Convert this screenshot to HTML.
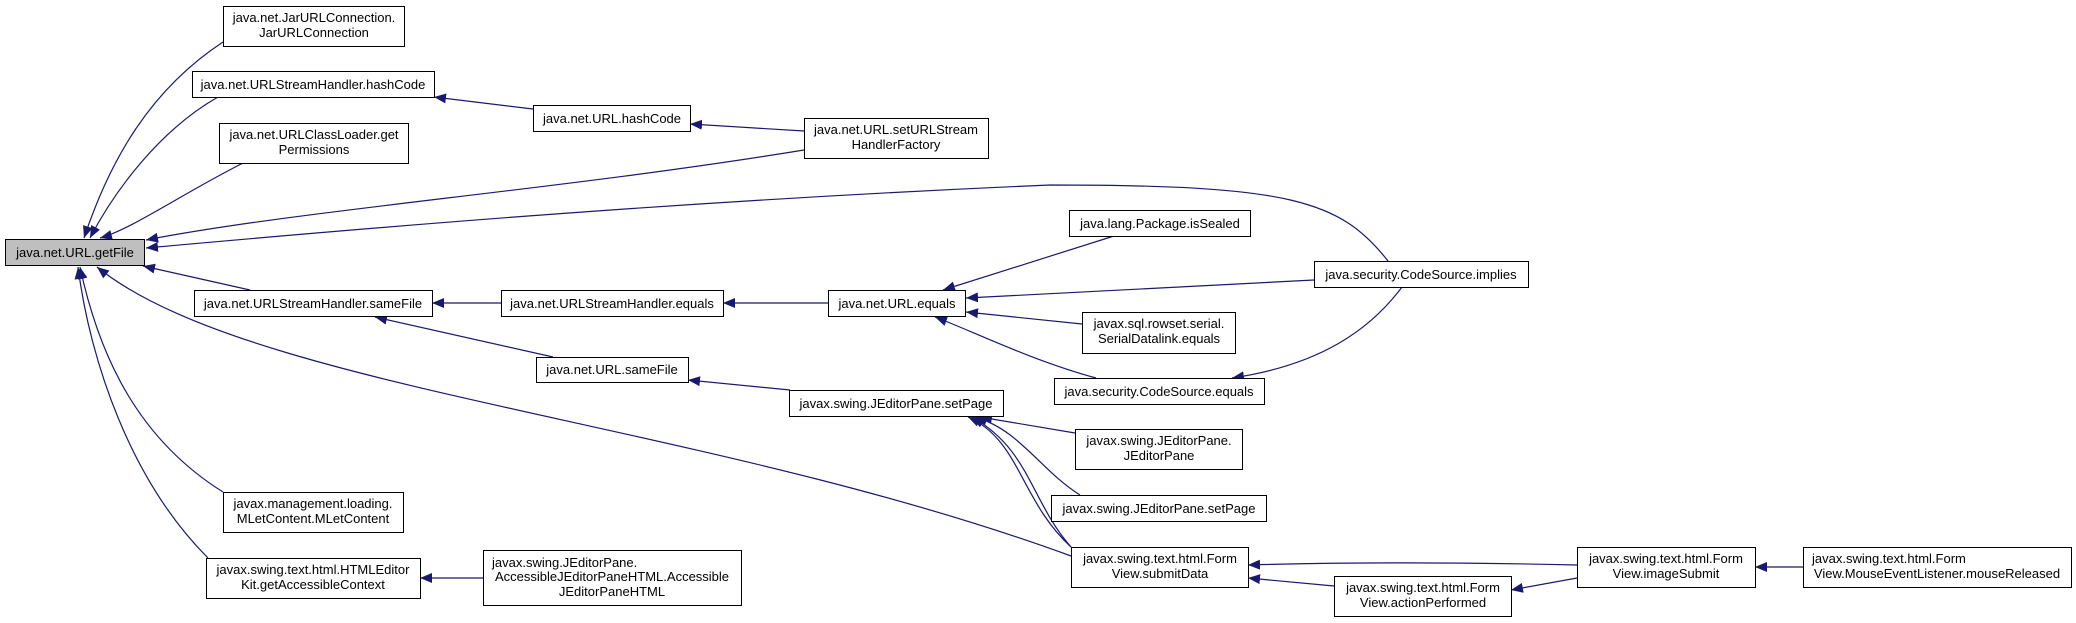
<!DOCTYPE html>
<html><head><meta charset="utf-8"><style>
html,body{margin:0;padding:0;background:#fff;}
svg{display:block;}
text{font-family:"Liberation Sans",Arial,sans-serif;font-size:13px;fill:#000;}
</style></head><body>
<svg width="2076" height="623" viewBox="0 0 2076 623" xmlns="http://www.w3.org/2000/svg">
<defs>
<marker id="a" markerWidth="13" markerHeight="10" refX="12" refY="5" orient="auto" markerUnits="userSpaceOnUse">
<polygon points="0,0 12,5 0,10" fill="#191970"/>
</marker>
</defs>
<g fill="none" stroke="#191970" stroke-width="1.2" marker-end="url(#a)">
<path d="M223,42 C150,90 110,160 84,238"/>
<path d="M218,97 C160,130 115,190 90,238"/>
<path d="M243,163 C180,195 130,230 100,238"/>
<path d="M804,150 C560,190 300,210 146,240"/>
<path d="M1388,261 C1340,200 1290,185 1050,185 C700,200 400,225 146,248"/>
<path d="M250,290 L143,266"/>
<path d="M1071,556 C700,420 250,390 97,267"/>
<path d="M223,492 C140,440 100,360 80,267"/>
<path d="M208,558 C130,480 90,360 78,267"/>
<path d="M533,109 L434,97"/>
<path d="M804,131 L690,124"/>
<path d="M501,303 L432,303"/>
<path d="M828,303 L723,303"/>
<path d="M553,357 L375,317"/>
<path d="M790,390 L688,380"/>
<path d="M1114,236 L943,290"/>
<path d="M1314,280 L966,298"/>
<path d="M1082,324 L966,312"/>
<path d="M1096,378 C1030,360 970,330 935,317"/>
<path d="M1402,287 C1370,330 1320,365 1232,378"/>
<path d="M1075,433 L980,417"/>
<path d="M1080,495 C1040,470 1020,430 975,417"/>
<path d="M1071,547 C1030,500 1030,450 972,417"/>
<path d="M1071,547 C1020,500 1020,440 968,417"/>
<path d="M1577,565 C1450,562 1350,562 1248,565"/>
<path d="M1334,586 L1248,578"/>
<path d="M1577,578 L1511,590"/>
<path d="M1803,567 L1755,567"/>
<path d="M483,578 L420,578"/>
</g>
<g stroke="#000" stroke-width="1" fill="#fff">
<rect x="5.5" y="239.5" width="139" height="26" fill="#bfbfbf"/>
<rect x="223.5" y="6.5" width="181" height="40"/>
<rect x="192.5" y="71.5" width="242" height="26"/>
<rect x="219.5" y="123.5" width="189" height="40"/>
<rect x="533.5" y="105.5" width="157" height="26"/>
<rect x="804.5" y="118.5" width="184" height="40"/>
<rect x="194.5" y="290.5" width="238" height="26"/>
<rect x="501.5" y="290.5" width="222" height="26"/>
<rect x="828.5" y="290.5" width="137" height="26"/>
<rect x="536.5" y="357.5" width="152" height="25"/>
<rect x="789.5" y="390.5" width="214" height="26"/>
<rect x="223.5" y="492.5" width="180" height="40"/>
<rect x="206.5" y="558.5" width="214" height="40"/>
<rect x="483.5" y="550.5" width="258" height="55"/>
<rect x="1069.5" y="210.5" width="181" height="26"/>
<rect x="1314.5" y="261.5" width="214" height="26"/>
<rect x="1082.5" y="312.5" width="153" height="41"/>
<rect x="1054.5" y="378.5" width="210" height="26"/>
<rect x="1075.5" y="429.5" width="167" height="40"/>
<rect x="1051.5" y="495.5" width="215" height="26"/>
<rect x="1071.5" y="547.5" width="177" height="40"/>
<rect x="1334.5" y="576.5" width="177" height="40"/>
<rect x="1577.5" y="547.5" width="178" height="40"/>
<rect x="1803.5" y="547.5" width="268" height="40"/>
</g>
<g text-anchor="middle">
<text x="75" y="257">java.net.URL.getFile</text>
<text x="314" y="22">java.net.JarURLConnection.</text><text x="314" y="37">JarURLConnection</text>
<text x="313" y="89">java.net.URLStreamHandler.hashCode</text>
<text x="314" y="139">java.net.URLClassLoader.get</text><text x="314" y="154">Permissions</text>
<text x="612" y="123">java.net.URL.hashCode</text>
<text x="896" y="134">java.net.URL.setURLStream</text><text x="896" y="149">HandlerFactory</text>
<text x="313" y="308">java.net.URLStreamHandler.sameFile</text>
<text x="612" y="308">java.net.URLStreamHandler.equals</text>
<text x="897" y="308">java.net.URL.equals</text>
<text x="612" y="374">java.net.URL.sameFile</text>
<text x="896" y="408">javax.swing.JEditorPane.setPage</text>
<text x="313" y="508">javax.management.loading.</text><text x="313" y="523">MLetContent.MLetContent</text>
<text x="313" y="574">javax.swing.text.html.HTMLEditor</text><text x="313" y="589">Kit.getAccessibleContext</text>
<text x="492" y="567" text-anchor="start">javax.swing.JEditorPane.</text>
<text x="612" y="581">AccessibleJEditorPaneHTML.Accessible</text>
<text x="612" y="596">JEditorPaneHTML</text>
<text x="1160" y="228">java.lang.Package.isSealed</text>
<text x="1421" y="279">java.security.CodeSource.implies</text>
<text x="1159" y="328">javax.sql.rowset.serial.</text><text x="1159" y="343">SerialDatalink.equals</text>
<text x="1159" y="396">java.security.CodeSource.equals</text>
<text x="1159" y="445">javax.swing.JEditorPane.</text><text x="1159" y="460">JEditorPane</text>
<text x="1159" y="513">javax.swing.JEditorPane.setPage</text>
<text x="1160" y="563">javax.swing.text.html.Form</text><text x="1160" y="578">View.submitData</text>
<text x="1423" y="592">javax.swing.text.html.Form</text><text x="1423" y="607">View.actionPerformed</text>
<text x="1666" y="563">javax.swing.text.html.Form</text><text x="1666" y="578">View.imageSubmit</text>
<text x="1812" y="563" text-anchor="start">javax.swing.text.html.Form</text>
<text x="1937" y="578">View.MouseEventListener.mouseReleased</text>
</g>
</svg>
</body></html>
